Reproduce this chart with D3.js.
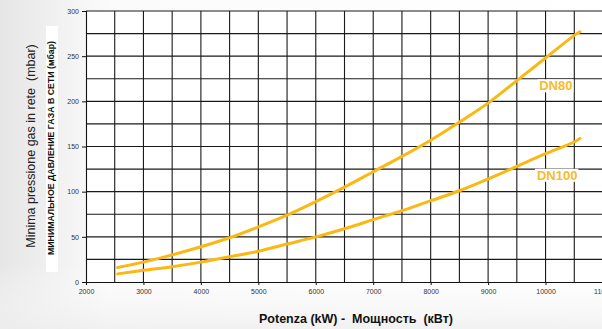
<!DOCTYPE html>
<html>
<head>
<meta charset="utf-8">
<script src="https://cdn.jsdelivr.net/npm/d3@7"></script>
<style>
  html, body { margin: 0; padding: 0; background: #fff; }
  svg { display: block; }
  text { white-space: pre; }
</style>
</head>
<body>
<script>
// ---- data ----
const power = [2550, 3000, 3500, 4000, 4500, 5000, 5500, 6000, 6500, 7000, 7500, 8000, 8500, 9000, 9500, 10000, 10500, 10600];
const dn80  = [16, 22, 30, 39, 49, 61, 74, 89, 105, 122, 139, 157, 177, 198, 223, 248, 273, 277];
const dn100 = [9, 13, 17, 22, 28, 34, 42, 50, 59, 69, 79, 90, 101, 114, 128, 142, 155, 159];
const seriesNames = ["DN80", "DN100"];
const xTicks = [2000, 3000, 4000, 5000, 6000, 7000, 8000, 9000, 10000, 11000];
const yTicks = [0, 50, 100, 150, 200, 250, 300];
const yTitle1 = "Minima pressione gas in rete  (mbar)";
const yTitle2 = "МИНИМАЛЬНОЕ ДАВЛЕНИЕ ГАЗА В СЕТИ (мбар)";
const xTitle = "Potenza (kW) -  Мощность  (кВт)";

const W = 602, H = 329;
const svg = d3.select("body").append("svg").attr("width", W).attr("height", H);

// background shading
const defs = svg.append("defs");
const g1 = defs.append("linearGradient").attr("id", "bgL").attr("x1", 0).attr("x2", 1).attr("y1", 0).attr("y2", 0);
g1.append("stop").attr("offset", "0%").attr("stop-color", "#e6e6e6");
g1.append("stop").attr("offset", "18%").attr("stop-color", "#fbfbfb");
g1.append("stop").attr("offset", "100%").attr("stop-color", "#ffffff");
svg.append("rect").attr("width", W).attr("height", H).attr("fill", "url(#bgL)");
const g2 = defs.append("linearGradient").attr("id", "bgB").attr("x1", 0).attr("x2", 0).attr("y1", 0).attr("y2", 1);
g2.append("stop").attr("offset", "80%").attr("stop-color", "#ffffff").attr("stop-opacity", 0);
g2.append("stop").attr("offset", "100%").attr("stop-color", "#eeeeee").attr("stop-opacity", 0.8);
svg.append("rect").attr("width", W).attr("height", H).attr("fill", "url(#bgB)");

const x = d3.scaleLinear().domain([2000, 11000]).range([86, 603]);
const y = d3.scaleLinear().domain([0, 300]).range([282, 11]);

// plot background
svg.append("rect").attr("x", x(2000)).attr("y", y(300))
  .attr("width", x(11000) - x(2000)).attr("height", y(0) - y(300)).attr("fill", "#fff");

// grid
const grid = svg.append("g").attr("stroke", "#1a1a1a").attr("stroke-width", 1.1);
d3.range(2500, 11001, 500).forEach(v => {
  grid.append("line").attr("x1", x(v)).attr("x2", x(v)).attr("y1", y(0)).attr("y2", y(300));
});
d3.range(25, 301, 25).forEach(v => {
  grid.append("line").attr("x1", x(2000)).attr("x2", x(11000)).attr("y1", y(v)).attr("y2", y(v));
});

// axes
const yAxis = svg.append("g").attr("transform", `translate(${x(2000)},0)`)
  .call(d3.axisLeft(y).tickValues(yTicks).tickSize(4).tickPadding(3));
const xAxis = svg.append("g").attr("transform", `translate(0,${y(0)})`)
  .call(d3.axisBottom(x).tickValues(xTicks).tickSize(3).tickPadding(4).tickFormat(d3.format("d")));
[yAxis, xAxis].forEach(a => {
  a.select(".domain").attr("stroke", "#111").attr("stroke-width", 1.1);
  a.selectAll(".tick line").attr("stroke", "#111");
  a.selectAll("text").attr("font-family", "Liberation Sans, Arial, sans-serif")
    .attr("font-size", 7).attr("fill", "#333");
});

// curves
const line = d3.line().x(d => x(d[0])).y(d => y(d[1])).curve(d3.curveCatmullRom);
const color = "#fcb812";
[dn80, dn100].forEach(s => {
  svg.append("path").datum(power.map((p, i) => [p, s[i]]))
    .attr("d", line).attr("fill", "none").attr("stroke", color).attr("stroke-width", 3)
    .attr("stroke-linecap", "round");
});

// series labels
const labelPos = [[9890, 216], [9850, 117]];
seriesNames.forEach((n, i) => {
  const t = svg.append("text").attr("x", x(labelPos[i][0])).attr("y", y(labelPos[i][1]))
    .attr("font-family", "Liberation Sans, Arial, sans-serif").attr("font-weight", "bold")
    .attr("font-size", 13).attr("fill", "#f8bb2a").attr("dominant-baseline", "middle")
    .text(n);
  const b = t.node().getBBox();
  svg.insert("rect", () => t.node()).attr("x", b.x - 2).attr("y", b.y + 1)
    .attr("width", b.width + 3).attr("height", b.height - 2).attr("fill", "#fff");
});

// axis titles
svg.append("text").attr("transform", "translate(35,146) rotate(-90)")
  .attr("text-anchor", "middle").attr("font-family", "Liberation Sans, Arial, sans-serif")
  .attr("font-size", 12.5).attr("fill", "#222").text(yTitle1);
const rt = svg.append("text").attr("transform", "translate(54,148) rotate(-90)")
  .attr("text-anchor", "middle").attr("font-family", "Liberation Sans, Arial, sans-serif")
  .attr("font-weight", "bold").attr("font-size", 8.8).attr("fill", "#111").text(yTitle2);
svg.insert("rect", () => rt.node()).attr("x", 46).attr("y", 26).attr("width", 12).attr("height", 246).attr("fill", "#fff");
svg.append("text").attr("x", 356).attr("y", 323).attr("text-anchor", "middle")
  .attr("font-family", "Liberation Sans, Arial, sans-serif").attr("font-weight", "bold")
  .attr("font-size", 12.5).attr("fill", "#111").text(xTitle);
</script>
</body>
</html>
